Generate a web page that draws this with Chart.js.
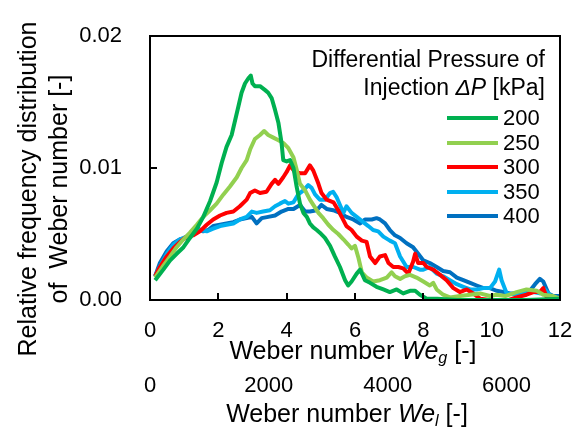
<!DOCTYPE html>
<html>
<head>
<meta charset="utf-8">
<script src="https://cdn.jsdelivr.net/npm/chart.js@4.4.0/dist/chart.umd.min.js"></script>
<style>
  html, body { margin: 0; padding: 0; background: #fff; }
  #wrap { position: relative; width: 580px; height: 430px; font-family: "Liberation Sans", Arial, sans-serif; color: #000; }
  #wrap canvas { position: absolute; left: 0; top: 0; }
  .txt { position: absolute; white-space: nowrap; }
  .ttl { font-size: 25px; line-height: 28px; }
  #ytitle { left: -137px; top: 158px; width: 360px; height: 62px; font-size: 25px; line-height: 31px; text-align: center; transform: rotate(-90deg); }
  #xtitle { left: 153px; top: 336px; width: 400px; text-align: center; }
  #x2title { left: 147px; top: 399px; width: 400px; text-align: center; }
  #legtitle { right: 35px; top: 45px; font-size: 23px; line-height: 28px; text-align: right; }
  .item { position: absolute; left: 447px; height: 24px; }
  .item .sw { position: absolute; left: 0; top: 10px; width: 51px; height: 4px; }
  .item .lab { position: absolute; left: 56px; top: 0; font-size: 22px; line-height: 24px; }
  sub { font-size: 65%; vertical-align: -0.25em; line-height: 0; }
</style>
</head>
<body>
<div id="wrap">
  <canvas id="myChart" width="580" height="430"></canvas>
  <div id="ytitle" class="txt">Relative frequency distribution<br>of&nbsp; Weber number [-]</div>
  <div id="xtitle" class="txt ttl">Weber number <i>We<sub>g</sub></i> [-]</div>
  <div id="x2title" class="txt ttl">Weber number <i>We<sub>l</sub></i> [-]</div>
  <div id="legtitle" class="txt">Differential Pressure of<br>Injection <i>&Delta;P</i> [kPa]</div>
  <div id="legend"></div>
</div>
<script>
'use strict';

// Differential pressure of injection [kPa]
const pressures = ['200', '250', '300', '350', '400'];
const colors = ['#00B050', '#92D050', '#FF0000', '#00B0F0', '#0070C0'];

// Weber number We_g and relative frequency, one pair of arrays per pressure
const we200 = [0.15,0.39,0.59,0.78,0.98,1.17,1.37,1.56,1.76,1.95,2.10,2.24,2.39,2.49,2.59,2.68,2.78,2.88,2.95,3.00,3.07,3.22,3.37,3.46,3.56,3.66,3.76,3.85,3.90,4.00,4.10,4.20,4.29,4.39,4.49,4.59,4.68,4.78,4.88,4.97,5.12,5.27,5.41,5.56,5.71,5.80,5.90,6.05,6.15,6.29,6.44,6.63,6.83,7.02,7.22,7.41,7.61,7.76,7.90,8.10,8.40,9.00,10.00,11.00,12.00];
const f200 = [0.0015,0.0023,0.0030,0.0035,0.0040,0.0047,0.0054,0.0063,0.0075,0.0089,0.0104,0.0116,0.0125,0.0136,0.0147,0.0157,0.0164,0.0168,0.0170,0.0164,0.0162,0.0162,0.0159,0.0157,0.0153,0.0144,0.0134,0.0119,0.0106,0.0105,0.0106,0.0100,0.0086,0.0073,0.0066,0.0063,0.0058,0.0055,0.0053,0.0051,0.0047,0.0041,0.0033,0.0025,0.0015,0.0011,0.0014,0.0020,0.0023,0.0015,0.0013,0.0010,0.0008,0.0006,0.0008,0.0005,0.0007,0.0007,0.0004,0.0001,0.0001,0,0,0,0.0001];

const we250 = [0.15,0.39,0.59,0.78,0.98,1.17,1.37,1.56,1.76,1.95,2.15,2.34,2.54,2.68,2.83,2.93,3.07,3.22,3.34,3.46,3.61,3.76,3.90,4.05,4.20,4.29,4.39,4.54,4.68,4.78,4.93,5.07,5.22,5.37,5.51,5.66,5.80,5.90,6.00,6.10,6.20,6.34,6.53,6.73,6.93,7.07,7.17,7.32,7.46,7.61,7.80,8.00,8.19,8.29,8.39,8.58,8.78,9.07,9.37,9.66,9.95,10.14,10.40,10.73,11.02,11.32,11.51,11.80,12.00];
const f250 = [0.0017,0.0026,0.0033,0.0040,0.0046,0.0051,0.0057,0.0063,0.0068,0.0073,0.0080,0.0086,0.0093,0.0100,0.0106,0.0114,0.0122,0.0125,0.0128,0.0125,0.0123,0.0121,0.0119,0.0115,0.0108,0.0099,0.0088,0.0083,0.0076,0.0072,0.0066,0.0062,0.0057,0.0053,0.0050,0.0046,0.0042,0.0039,0.0041,0.0032,0.0021,0.0017,0.0014,0.0015,0.0017,0.0021,0.0018,0.0016,0.0018,0.0019,0.0017,0.0014,0.0011,0.0013,0.0008,0.0004,0.0002,0.0003,0.0004,0.0005,0.0003,0.0004,0.0003,0.0006,0.0008,0.0007,0.0004,0.0003,0.0001];

const we300 = [0.15,0.29,0.49,0.68,0.88,1.07,1.27,1.46,1.66,1.85,2.05,2.24,2.44,2.63,2.83,2.93,3.07,3.22,3.41,3.56,3.66,3.76,3.90,4.00,4.10,4.24,4.39,4.54,4.68,4.78,4.93,5.02,5.17,5.37,5.51,5.61,5.75,5.90,6.05,6.20,6.34,6.44,6.59,6.73,6.88,6.98,7.12,7.27,7.41,7.56,7.70,7.76,7.85,8.00,8.10,8.29,8.49,8.68,8.88,9.07,9.27,9.46,9.66,9.95,10.50,10.73,11.02,11.22,11.41,11.51,11.61,11.75,12.00];
const f300 = [0.0018,0.0025,0.0033,0.0039,0.0044,0.0048,0.0049,0.0052,0.0057,0.0061,0.0064,0.0066,0.0067,0.0071,0.0076,0.0081,0.0083,0.0081,0.0082,0.0088,0.0091,0.0088,0.0093,0.0097,0.0102,0.0097,0.0096,0.0096,0.0102,0.0098,0.0088,0.0081,0.0076,0.0074,0.0068,0.0063,0.0056,0.0053,0.0048,0.0045,0.0044,0.0033,0.0028,0.0033,0.0034,0.0028,0.0025,0.0025,0.0024,0.0020,0.0029,0.0035,0.0028,0.0028,0.0025,0.0023,0.0019,0.0015,0.0009,0.0006,0.0008,0.0005,0.0001,0,0,0.0002,0.0004,0.0006,0.0006,0.0009,0.0002,0,0];

const we350 = [0.15,0.29,0.49,0.68,0.88,1.07,1.27,1.46,1.66,1.85,2.05,2.24,2.44,2.63,2.83,2.98,3.12,3.31,3.51,3.66,3.80,3.95,4.05,4.20,4.34,4.49,4.63,4.73,4.83,4.97,5.12,5.27,5.36,5.46,5.56,5.66,5.75,5.90,6.05,6.24,6.39,6.53,6.68,6.83,7.02,7.17,7.32,7.51,7.71,7.90,8.00,8.19,8.39,8.58,8.78,8.98,9.17,9.37,9.56,9.76,9.95,10.10,10.22,10.29,10.44,10.73,11.02,11.22,11.41,11.55,11.70,11.90,12.00];
const f350 = [0.0018,0.0025,0.0035,0.0042,0.0046,0.0048,0.0050,0.0053,0.0052,0.0054,0.0056,0.0057,0.0058,0.0061,0.0063,0.0067,0.0066,0.0067,0.0068,0.0071,0.0073,0.0075,0.0073,0.0074,0.0080,0.0083,0.0087,0.0085,0.0080,0.0076,0.0076,0.0081,0.0082,0.0078,0.0072,0.0066,0.0071,0.0066,0.0063,0.0059,0.0056,0.0053,0.0052,0.0048,0.0045,0.0043,0.0033,0.0025,0.0025,0.0023,0.0023,0.0025,0.0020,0.0018,0.0015,0.0012,0.0010,0.0008,0.0008,0.0009,0.0009,0.0014,0.0023,0.0015,0.0005,0.0004,0.0006,0.0006,0.0005,0.0008,0.0004,0.0001,0.0001];

const we400 = [0.15,0.29,0.49,0.68,0.88,1.07,1.27,1.41,1.56,1.70,1.85,2.05,2.24,2.44,2.63,2.83,2.98,3.12,3.27,3.46,3.66,3.85,4.05,4.20,4.39,4.54,4.68,4.88,5.02,5.17,5.36,5.56,5.75,5.95,6.15,6.29,6.49,6.63,6.73,6.88,7.02,7.17,7.32,7.51,7.70,7.85,8.00,8.19,8.39,8.58,8.78,8.98,9.17,9.37,9.56,9.76,9.95,10.14,10.34,10.54,10.73,10.93,11.12,11.27,11.41,11.51,11.66,11.80,12.00];
const f400 = [0.0018,0.0028,0.0037,0.0043,0.0046,0.0047,0.0050,0.0054,0.0052,0.0053,0.0056,0.0057,0.0058,0.0059,0.0061,0.0062,0.0063,0.0058,0.0062,0.0063,0.0064,0.0067,0.0069,0.0069,0.0072,0.0067,0.0067,0.0068,0.0072,0.0069,0.0068,0.0066,0.0063,0.0061,0.0058,0.0061,0.0061,0.0062,0.0061,0.0058,0.0053,0.0049,0.0047,0.0043,0.0040,0.0035,0.0030,0.0028,0.0025,0.0022,0.0021,0.0017,0.0015,0.0013,0.0011,0.0009,0.0009,0.0007,0.0006,0.0005,0.0005,0.0006,0.0007,0.0012,0.0016,0.0014,0.0005,0.0003,0.0003];

// axis ticks
const xTicks = [0, 2, 4, 6, 8, 10, 12];
const x2Ticks = [0, 2000, 4000, 6000];
const yTicks = [0, 0.01, 0.02];

const weSeries = [we200, we250, we300, we350, we400];
const fSeries = [f200, f250, f300, f350, f400];

Chart.defaults.font.family = '"Liberation Sans", Arial, sans-serif';
Chart.defaults.color = '#000';

// keep the plot box fixed: no extra room for tick labels that stick out
function fixSize(prop, size) {
   return function (s) {
      s[prop] = size;
      s.paddingLeft = 0; s.paddingRight = 0; s.paddingTop = 0; s.paddingBottom = 0;
   };
}

// box round the plot and the short inside ticks
const frame = {
   id: 'frame',
   afterDatasetsDraw(chart) {
      const a = chart.chartArea;
      const ctx = chart.ctx;
      const x = chart.scales.x;
      const y = chart.scales.y;
      ctx.save();
      ctx.strokeStyle = '#000';
      ctx.lineWidth = 2;
      ctx.strokeRect(a.left, a.top, a.right - a.left, a.bottom - a.top);
      ctx.beginPath();
      xTicks.forEach(function (t) {
         const px = Math.round(x.getPixelForValue(t));
         ctx.moveTo(px, a.bottom);
         ctx.lineTo(px, a.bottom - 7);
      });
      yTicks.forEach(function (t) {
         const py = Math.round(y.getPixelForValue(t));
         ctx.moveTo(a.left, py);
         ctx.lineTo(a.left + 7, py);
      });
      ctx.stroke();
      ctx.restore();
   }
};

const datasets = pressures.map(function (p, i) {
   return {
      label: p,
      data: weSeries[i].map(function (w, j) { return { x: w, y: fSeries[i][j] }; }),
      borderColor: colors[i],
      backgroundColor: colors[i],
      borderWidth: 4,
      pointRadius: 0,
      tension: 0,
      borderJoinStyle: 'round',
      xAxisID: 'x',
      yAxisID: 'y'
   };
});

const myChart = new Chart(document.getElementById('myChart'), {
   type: 'line',
   data: { datasets: datasets },
   options: {
      responsive: false,
      animation: false,
      layout: { autoPadding: false, padding: { left: 0, top: 36, right: 20, bottom: 0 } },
      plugins: { legend: { display: false }, tooltip: { enabled: false } },
      scales: {
         x: {
            type: 'linear', position: 'bottom', min: 0, max: 12,
            grid: { display: false, drawTicks: false },
            border: { display: false },
            afterBuildTicks: function (s) { s.ticks = xTicks.map(function (v) { return { value: v }; }); },
            ticks: { padding: 18, font: { size: 22 }, maxRotation: 0, autoSkip: false, callback: function (v) { return String(v); } },
            afterFit: fixSize('height', 50)
         },
         x2: {
            type: 'linear', axis: 'x', position: 'bottom', min: 0, max: 6900,
            grid: { display: false, drawTicks: false },
            border: { display: false },
            afterBuildTicks: function (s) { s.ticks = x2Ticks.map(function (v) { return { value: v }; }); },
            ticks: { padding: 23, font: { size: 22 }, maxRotation: 0, autoSkip: false, callback: function (v) { return String(v); } },
            afterFit: fixSize('height', 80)
         },
         y: {
            type: 'linear', min: 0, max: 0.02,
            grid: { display: false, drawTicks: false },
            border: { display: false },
            afterBuildTicks: function (s) { s.ticks = yTicks.map(function (v) { return { value: v }; }); },
            ticks: { padding: 28, font: { size: 22 }, callback: function (v) { return v.toFixed(2); } },
            afterFit: fixSize('width', 150)
         }
      }
   },
   plugins: [frame]
});

// legend built from the chart's datasets
const legend = document.getElementById('legend');
myChart.data.datasets.forEach(function (ds, i) {
   const item = document.createElement('div');
   item.className = 'item';
   item.style.top = (106 + i * 24.5) + 'px';
   item.innerHTML = '<div class="sw" style="background:' + ds.borderColor + '"></div><div class="lab">' + ds.label + '</div>';
   legend.appendChild(item);
});
</script>
</body>
</html>
